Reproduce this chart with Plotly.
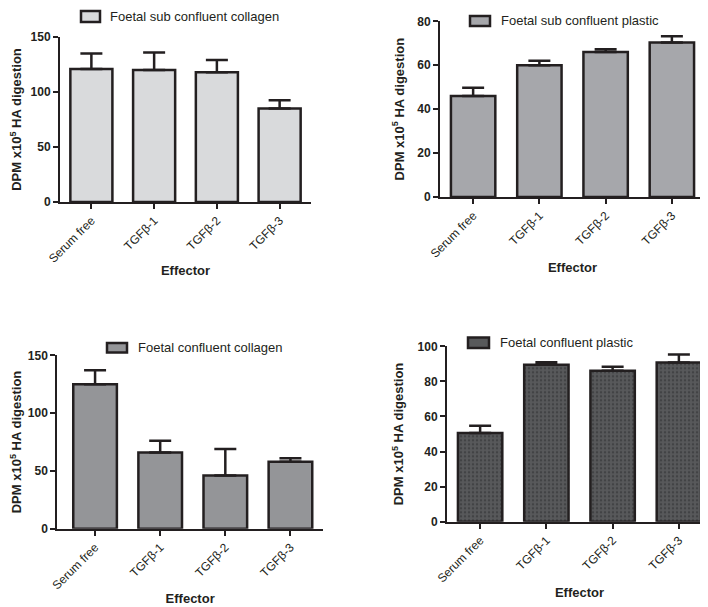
import plotly.graph_objects as go

categories = ["Serum free", "TGFβ-1", "TGFβ-2", "TGFβ-3"]

sub_collagen_mean = [121, 120, 118, 85]
sub_collagen_err = [14, 16, 11, 7.5]

sub_plastic_mean = [46, 60, 66, 70.4]
sub_plastic_err = [3.7, 2.0, 1.3, 2.8]

conf_collagen_mean = [125, 66, 46, 58]
conf_collagen_err = [12, 10, 23, 3]

conf_plastic_mean = [50.5, 89.5, 86, 90.8]
conf_plastic_err = [4.2, 1.4, 2.4, 4.5]

series_names = ["Foetal sub confluent collagen", "Foetal sub confluent plastic",
                "Foetal confluent collagen", "Foetal confluent plastic"]

W, H = 708, 607
INK = "#231f20"
FONT = "Liberation Sans, Arial, sans-serif"


def px_x(p):
    return p / W


def px_y(p):
    return 1 - p / H


panels = [
    dict(mean=sub_collagen_mean, err=sub_collagen_err, color="#d9dadc",
         xdom=(52, 303), ydom=(194, 29), xr=[-0.5, 3.5], yr=[0, 150], dt=50,
         box=(73, 92, 3, 14), tx=100, ty=9, pattern=None, ys=8, xs=1),
    dict(mean=sub_plastic_mean, err=sub_plastic_err, color="#a6a7ab",
         xdom=(432, 697), ydom=(189, 13.3), xr=[-0.5, 3.5], yr=[0, 80], dt=20,
         box=(462, 482, 8, 18), tx=491, ty=13, pattern=None, ys=10, xs=3),
    dict(mean=conf_collagen_mean, err=conf_collagen_err, color="#949598",
         xdom=(49.3, 315), ydom=(520.7, 347.3), xr=[-0.58, 3.5], yr=[0, 150], dt=50,
         box=(99, 119, 335, 344.5), tx=128, ty=339.5, pattern=None, ys=7, xs=2),
    dict(mean=conf_plastic_mean, err=conf_plastic_err, color="#58595b",
         xdom=(439, 704), ydom=(513.7, 338.3), xr=[-0.5, 3.5], yr=[0, 100], dt=20,
         box=(460, 481, 329.5, 340), tx=490, ty=334.5, pattern=True, ys=11, xs=3),
]

fig = go.Figure()
layout = dict(
    width=W, height=H, autosize=False,
    margin=dict(l=0, r=0, t=0, b=0),
    paper_bgcolor="white", plot_bgcolor="white",
    showlegend=False,
    font=dict(family=FONT, color=INK),
)
shapes = []
annotations = []

for i, p in enumerate(panels):
    n = "" if i == 0 else str(i + 1)
    xa, ya = "x" + n, "y" + n
    marker = dict(color=p["color"], line=dict(color=INK, width=2.5))
    if p["pattern"]:
        marker["pattern"] = dict(shape=".", bgcolor=p["color"], fgcolor="#424345",
                                 size=4, solidity=0.3, fillmode="replace")
    fig.add_trace(go.Bar(
        x=categories, y=p["mean"], name=series_names[i],
        marker=marker, width=0.67,
        error_y=dict(type="data", symmetric=False, array=p["err"],
                     arrayminus=[0] * len(p["err"]), color=INK, thickness=2.5, width=11),
        xaxis=xa, yaxis=ya,
    ))
    layout["xaxis" + n] = dict(
        domain=[px_x(p["xdom"][0]), px_x(p["xdom"][1])], anchor=ya,
        type="category", range=p["xr"], showgrid=False, zeroline=False,
        showline=True, linecolor=INK, linewidth=2,
        ticks="outside", ticklen=5, tickwidth=2, tickcolor=INK,
        tickangle=-45, tickfont=dict(size=12, family=FONT, color=INK),
        title=dict(text="Effector", font=dict(size=13, family=FONT, color=INK, weight="bold"),
                   standoff=p["xs"]),
        automargin=False, fixedrange=True,
    )
    layout["yaxis" + n] = dict(
        domain=[px_y(p["ydom"][0]), px_y(p["ydom"][1])], anchor=xa,
        range=p["yr"], dtick=p["dt"], showgrid=False, zeroline=False,
        showline=True, linecolor=INK, linewidth=2,
        ticks="outside", ticklen=5, tickwidth=2, tickcolor=INK,
        tickfont=dict(size=12, family=FONT, color=INK, weight="bold"),
        title=dict(text="DPM x10<sup>5</sup> HA digestion",
                   font=dict(size=13, family=FONT, color=INK, weight="bold"), standoff=p["ys"]),
        automargin=False, fixedrange=True,
    )
    bx0, bx1, by0, by1 = p["box"]
    shapes.append(dict(type="rect", xref="paper", yref="paper",
                       x0=px_x(bx0), x1=px_x(bx1), y0=px_y(by1), y1=px_y(by0),
                       fillcolor=p["color"], line=dict(color=INK, width=2.5)))
    annotations.append(dict(text=series_names[i], xref="paper", yref="paper",
                            x=px_x(p["tx"]), y=px_y(p["ty"]), xanchor="left", yanchor="middle",
                            showarrow=False, font=dict(size=13, family=FONT, color=INK)))

layout["shapes"] = shapes
layout["annotations"] = annotations
fig.update_layout(**layout)
fig.write_html("out.html")
